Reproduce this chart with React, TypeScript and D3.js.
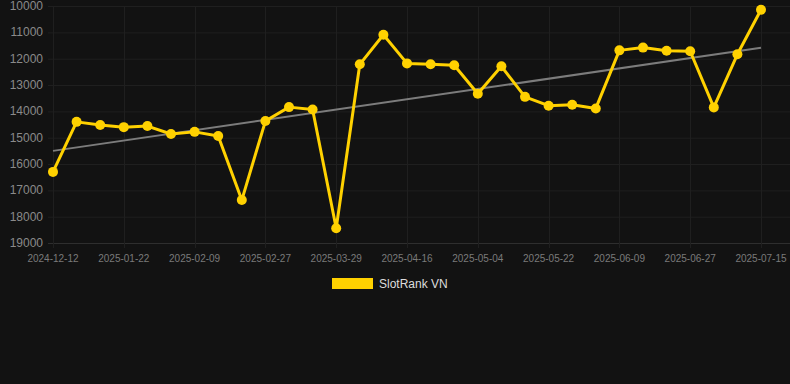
import React, { useEffect, useRef } from "react";
import * as d3 from "d3";

const categories: string[] = [
  "2024-12-12", "2024-12-26", "2025-01-09", "2025-01-22", "2025-01-28", "2025-02-03",
  "2025-02-09", "2025-02-15", "2025-02-21", "2025-02-27", "2025-03-09", "2025-03-19",
  "2025-03-29", "2025-04-04", "2025-04-10", "2025-04-16", "2025-04-22", "2025-04-28",
  "2025-05-04", "2025-05-10", "2025-05-16", "2025-05-22", "2025-05-28", "2025-06-03",
  "2025-06-09", "2025-06-15", "2025-06-21", "2025-06-27", "2025-07-03", "2025-07-09",
  "2025-07-15",
];

const seriesName = "SlotRank VN";
const rankValues: number[] = [
  16300, 14400, 14520, 14600, 14560, 14860, 14780, 14940, 17370, 14370, 13840,
  13930, 18440, 12215, 11090, 12180, 12215, 12250, 13330, 12290, 13450, 13785,
  13750, 13890, 11685, 11580, 11700, 11720, 13850, 11835, 10140,
];

const yTicks: number[] = [10000, 11000, 12000, 13000, 14000, 15000, 16000, 17000, 18000, 19000];

export default function App() {
  const ref = useRef<SVGSVGElement | null>(null);

  useEffect(() => {
    const svg = d3.select(ref.current);
    svg.selectAll("*").remove();
    const W = 790, H = 384;
    const left = 53, right = 761, top = 6, bottom = 243;

    svg.append("rect").attr("width", W).attr("height", H).attr("fill", "#121212");

    const x = d3.scalePoint<string>().domain(categories).range([left, right]);
    const y = d3.scaleLinear().domain([10000, 19000]).range([top, bottom]);

    const g = svg.append("g");
    // horizontal grid
    g.selectAll("line.h").data(yTicks).enter().append("line")
      .attr("x1", 48).attr("x2", W)
      .attr("y1", (d) => y(d) + 0.5).attr("y2", (d) => y(d) + 0.5)
      .attr("stroke", (d) => (d === 19000 ? "#2e2e2e" : "#1f1f1f")).attr("stroke-width", 1);

    const labelCats = categories.filter((_, i) => i % 3 === 0);
    g.selectAll("line.v").data(labelCats).enter().append("line")
      .attr("x1", (d) => Math.round(x(d)!) + 0.5).attr("x2", (d) => Math.round(x(d)!) + 0.5)
      .attr("y1", top).attr("y2", bottom + 5)
      .attr("stroke", "#1f1f1f").attr("stroke-width", 1);

    // y labels
    g.selectAll("text.y").data(yTicks).enter().append("text")
      .attr("x", 43).attr("y", (d) => y(d) + 4)
      .attr("text-anchor", "end")
      .attr("font-family", "Liberation Sans, Arial, sans-serif").attr("font-size", 12)
      .attr("fill", "#8a8a8a").text((d) => String(d));

    // x labels
    g.selectAll("text.x").data(labelCats).enter().append("text")
      .attr("x", (d) => x(d)!).attr("y", bottom + 19)
      .attr("text-anchor", "middle")
      .attr("font-family", "Liberation Sans, Arial, sans-serif").attr("font-size", 10)
      .attr("fill", "#7a7a7a").text((d) => d);

    // trend line (least squares)
    const n = rankValues.length;
    const xs = rankValues.map((_, i) => i);
    const mx = d3.mean(xs)!, my = d3.mean(rankValues)!;
    let num = 0, den = 0;
    xs.forEach((xi, i) => { num += (xi - mx) * (rankValues[i] - my); den += (xi - mx) ** 2; });
    const slope = num / den, intercept = my - slope * mx;
    g.append("line")
      .attr("x1", x(categories[0])!).attr("y1", y(intercept))
      .attr("x2", x(categories[n - 1])!).attr("y2", y(intercept + slope * (n - 1)))
      .attr("stroke", "#7c7c7c").attr("stroke-width", 2);

    const line = d3.line<number>().x((_, i) => x(categories[i])!).y((d) => y(d));
    g.append("path").datum(rankValues).attr("d", line)
      .attr("fill", "none").attr("stroke", "#FFD100").attr("stroke-width", 3)
      .attr("stroke-linejoin", "round");

    g.selectAll("circle").data(rankValues).enter().append("circle")
      .attr("cx", (_, i) => x(categories[i])!).attr("cy", (d) => y(d))
      .attr("r", 5).attr("fill", "#FFD100");

    // legend
    svg.append("rect").attr("x", 332).attr("y", 278).attr("width", 41).attr("height", 11)
      .attr("fill", "#FFD100");
    svg.append("text").attr("x", 379).attr("y", 288)
      .attr("font-family", "Liberation Sans, Arial, sans-serif").attr("font-size", 12)
      .attr("fill", "#dddddd").text(seriesName);
  }, []);

  return (
    <svg ref={ref} width={790} height={384}
      style={{ position: "absolute", left: 0, top: 0, display: "block" }} />
  );
}
